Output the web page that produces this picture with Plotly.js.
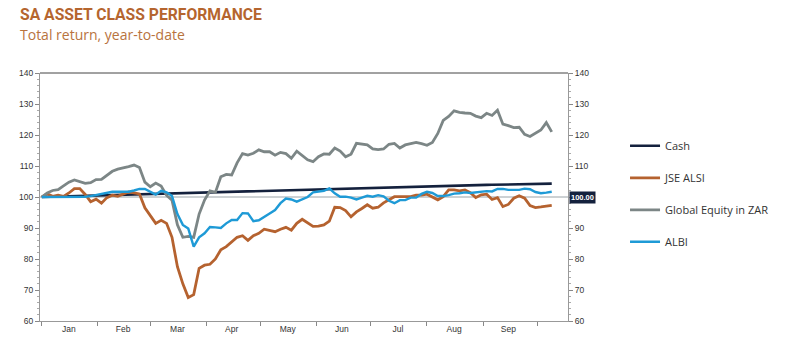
<!DOCTYPE html>
<html>
<head>
<meta charset="utf-8">
<script src="https://cdn.plot.ly/plotly-3.0.1.min.js"></script>
<style>
  html, body { margin: 0; padding: 0; background: #fff; }
  #chart { width: 798px; height: 364px; }
</style>
</head>
<body>
<div id="chart"></div>
<script>
// Sampling grid: every 3 days from 1 Jan 2020
const startDate = '2020-01-01';
const stepDays = 3;

const seriesNames = ['Cash', 'JSE ALSI', 'Global Equity in ZAR', 'ALBI'];
const seriesColors = ['#14213D', '#B5622F', '#7C8686', '#1E9AD6'];

const monthLabels = ['Jan', 'Feb', 'Mar', 'Apr', 'May', 'Jun', 'Jul', 'Aug', 'Sep'];
const monthMidDates = ['2020-01-16', '2020-02-15', '2020-03-16', '2020-04-15', '2020-05-16',
  '2020-06-15', '2020-07-16', '2020-08-16', '2020-09-15'];

const cash = [100.00,100.05,100.11,100.16,100.22,100.27,100.32,100.38,100.43,100.49,100.54,100.59,100.65,100.70,100.76,100.81,100.86,100.92,100.97,101.03,101.08,101.13,101.19,101.24,101.30,
  101.35,101.40,101.45,101.50,101.55,101.60,101.65,101.70,101.75,101.80,101.85,101.90,101.95,102.00,102.05,102.10,102.15,102.20,102.25,102.30,102.35,102.40,102.45,102.50,
  102.55,102.59,102.64,102.68,102.73,102.78,102.82,102.87,102.91,102.96,103.01,103.05,103.10,103.14,103.19,103.24,103.28,103.33,103.37,103.42,103.47,103.51,103.56,103.60,
  103.63,103.66,103.70,103.73,103.76,103.79,103.82,103.86,103.89,103.92,103.95,103.98,104.02,104.05,104.08,104.11,104.14,104.18,104.21,104.24,104.27,104.30];

const jseAlsi = [100,101.0,100.2,100.6,100.2,101.3,102.7,102.7,100.8,98.5,99.3,98.0,99.8,100.6,100.2,100.8,101.6,101.3,101.0,96.5,
  93.8,91.5,92.5,91.5,87.0,77.5,72.0,67.6,68.5,77.0,78.0,78.3,80.0,83.0,84.0,85.5,87.0,87.5,86.0,87.5,
  88.3,89.6,89.3,88.8,89.6,90.2,89.3,91.5,92.8,91.7,90.5,90.6,91.0,92.2,96.7,96.6,95.6,93.6,95.2,96.3,
  97.5,96.4,96.7,98.1,99.1,100.1,100.1,100.1,100.1,100.6,100.6,100.9,100.1,99.1,100.1,102.3,102.3,102.0,102.3,101.4,
  99.8,100.7,100.9,99.2,99.8,96.9,97.6,99.6,100.4,99.6,97.2,96.6,96.8,97.1,97.3];

const globalEquity = [100,101.3,102.1,102.4,103.6,104.8,105.5,105.0,104.4,104.6,105.6,105.7,107.1,108.3,109.0,109.3,109.8,110.3,109.5,104.8,
  103.3,104.5,103.5,100.5,99.0,91.0,87.0,87.3,87.0,94.5,99.0,102.0,101.5,106.5,107.3,107.1,111.0,114.0,113.5,114.1,
  115.2,114.6,114.6,113.5,114.4,114.0,112.5,114.8,113.5,112.0,111.4,113.0,113.9,113.8,115.8,114.8,113.0,113.8,117.3,117.0,
  116.8,115.5,115.3,115.5,117.0,117.3,115.8,116.8,117.2,117.6,117.2,116.7,117.6,120.5,124.7,126.0,127.8,127.3,127.1,127.0,
  126.1,125.6,127.0,126.3,128.0,123.5,123.0,122.4,122.5,120.2,119.5,120.5,121.6,124.0,121.0];

const albi = [100,100.0,100.1,100.1,100.1,100.1,100.1,100.0,100.1,100.3,100.6,101.0,101.4,101.7,101.7,101.7,101.7,102.1,102.6,102.6,
  101.7,100.8,102.0,101.5,100.3,94.5,91.0,89.8,84.0,87.0,88.3,90.3,90.2,90.0,91.5,92.6,92.6,94.8,94.7,92.2,
  92.5,93.5,94.7,95.8,98.0,99.5,99.2,98.5,99.2,100.0,101.5,101.7,102.0,102.8,101.2,100.1,100.1,99.8,99.2,99.8,
  100.4,100.1,100.6,100.2,98.8,98.0,99.0,99.0,99.8,99.8,101.0,101.7,101.3,100.3,100.3,100.6,101.1,101.2,101.5,101.3,
  101.5,101.7,101.9,101.8,102.6,102.6,102.3,102.3,102.3,102.7,102.5,101.6,101.2,101.4,101.7];

const yTickVals = [60, 70, 80, 90, 100, 110, 120, 130, 140];
const yTickValsRight = [60, 70, 80, 90, 110, 120, 130, 140];
const baseValue = 100;
const baseLabel = '100.00';
const titleText = 'SA ASSET CLASS PERFORMANCE';
const subtitleText = 'Total return, year-to-date';

// build dates
const dates = [];
(function () {
  const d0 = new Date(startDate + 'T00:00:00Z');
  for (let i = 0; i < cash.length; i++) {
    const d = new Date(d0.getTime() + i * stepDays * 86400000);
    dates.push(d.toISOString().slice(0, 10));
  }
})();

const allSeries = [cash, jseAlsi, globalEquity, albi];
const widths = [2.6, 2.8, 2.8, 2.4];

const traces = allSeries.map((vals, k) => ({
  type: 'scatter', mode: 'lines',
  x: dates, y: vals,
  name: seriesNames[k],
  legendgroup: 'g' + k,
  line: { color: seriesColors[k], width: widths[k] },
  hoverinfo: 'skip'
}));
// invisible trace to carry the right-hand axis
traces.push({
  type: 'scatter', mode: 'lines', x: dates, y: cash, yaxis: 'y2',
  showlegend: false, hoverinfo: 'skip', line: { color: 'rgba(0,0,0,0)', width: 0 }
});

const tickFont = { family: 'Liberation Sans, Arial, sans-serif', size: 8.5, color: '#333' };

const yAxisCommon = {
  range: [60, 140], ticks: 'outside', ticklen: 4, tickcolor: '#888',
  minor: { dtick: 2, ticks: 'outside', ticklen: 2, tickcolor: '#aaa' },
  showline: true, linecolor: '#999', linewidth: 1, showgrid: false, zeroline: false,
  tickfont: tickFont, fixedrange: true
};

const layout = {
  width: 798, height: 364,
  margin: { l: 40, r: 230, t: 73, b: 43 },
  paper_bgcolor: '#fff', plot_bgcolor: '#fff',
  showlegend: true,
  legend: {
    x: 1.108, xanchor: 'left', y: 0.765, yanchor: 'top',
    traceorder: 'grouped', tracegroupgap: 13,
    font: { family: 'Open Sans, sans-serif', size: 11, color: '#333' },
    bgcolor: 'rgba(0,0,0,0)'
  },
  xaxis: {
    type: 'date', range: ['2019-12-31', '2020-10-18'],
    tickmode: 'array', tickvals: monthMidDates, ticktext: monthLabels,
    ticks: '',
    minor: { tickmode: 'linear', dtick: 'M1', tick0: '2020-01-01', ticks: 'outside', ticklen: 4, tickcolor: '#888' },
    showline: true, linecolor: '#999', showgrid: false, zeroline: false,
    tickfont: tickFont, fixedrange: true
  },
  yaxis: Object.assign({}, yAxisCommon, { side: 'left', tickvals: yTickVals }),
  yaxis2: Object.assign({}, yAxisCommon, { side: 'right', overlaying: 'y', anchor: 'x', tickvals: yTickValsRight }),
  shapes: [
    { type: 'line', xref: 'paper', yref: 'y', x0: 0, x1: 1, y0: baseValue, y1: baseValue,
      line: { color: '#9aa3a8', width: 1 }, layer: 'below' },
    { type: 'line', xref: 'paper', yref: 'paper', x0: 0, x1: 1, y0: 1, y1: 1,
      line: { color: '#444', width: 1 } }
  ],
  annotations: [
    { xref: 'paper', yref: 'paper', x: -0.0417, y: 1.188, xanchor: 'left', yanchor: 'bottom',
      text: '<b>' + titleText + '</b>', showarrow: false,
      font: { family: 'Roboto, sans-serif', size: 15.7, color: '#B5652E' } },
    { xref: 'paper', yref: 'paper', x: -0.0417, y: 1.107, xanchor: 'left', yanchor: 'bottom',
      text: subtitleText, showarrow: false,
      font: { family: 'Open Sans, sans-serif', size: 14, color: '#B8733E' } },
    { xref: 'paper', yref: 'y', x: 1, xshift: 1, y: baseValue, xanchor: 'left', yanchor: 'middle',
      text: '<b>' + baseLabel + '</b>', showarrow: false, bgcolor: '#14213D', borderpad: 1,
      font: { family: 'Liberation Sans, Arial, sans-serif', size: 7.5, color: '#fff' } }
  ]
};

Plotly.newPlot('chart', traces, layout, { staticPlot: true, displayModeBar: false });
</script>
</body>
</html>
